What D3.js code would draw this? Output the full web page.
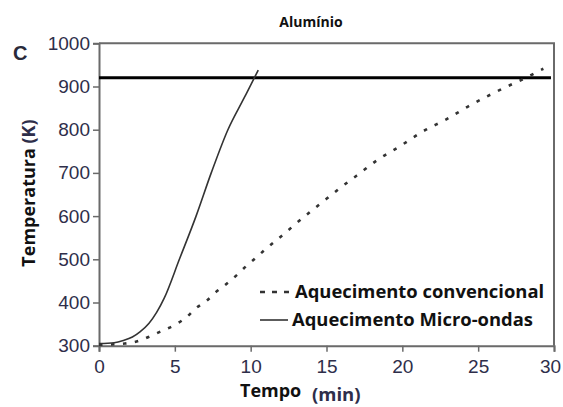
<!DOCTYPE html>
<html>
<head>
<meta charset="utf-8">
<script src="https://cdn.jsdelivr.net/npm/d3@7"></script>
<style>
  body { margin: 0; background: #fff; }
  svg { display: block; }
</style>
</head>
<body>
<script>
// dados
var timeMw = [0, 1, 1.6, 2.2, 2.7, 3.3, 3.8, 4.3, 5.3, 6.4, 7.4, 8.5, 9.5, 10.0, 10.5];
var tempMw = [305, 307, 312, 320, 332, 352, 377, 410, 500, 600, 700, 800, 869, 903, 938];

var timeConv = [0, 1.7, 2.7, 3.5, 4.2, 5, 5.8, 6.4, 7.1, 7.7, 8.4, 9.1, 9.7, 10.3, 11, 12, 13, 14, 15, 16, 17, 18.4, 19.9, 21.3, 22.9, 24.3, 25.8, 27.4, 28.2, 29, 29.3];
var tempConv = [302, 305, 312, 324, 335, 348, 367, 387, 404, 424, 443, 464, 484, 502, 524, 553, 583, 612, 640, 668, 694, 731, 763, 795, 824, 853, 881, 908, 921, 936, 941];

var meltTemp = 920;
var xTicks = [0, 5, 10, 15, 20, 25, 30];
var yTicks = [300, 400, 500, 600, 700, 800, 900, 1000];
var legendLabels = ["Aquecimento convencional", "Aquecimento Micro-ondas"];

var width = 563, height = 407;
var svg = d3.select('body').append('svg').attr('width', width).attr('height', height);

var xScale = d3.scaleLinear().domain([0, 30]).range([99, 554]);
var yScale = d3.scaleLinear().domain([300, 1000]).range([345.7, 43.3]);

var tickColor = '#2e2e4a';

// moldura (topo e direita)
svg.append('path')
  .attr('fill', 'none')
  .attr('stroke', '#6a6a6a')
  .attr('stroke-width', 2)
  .attr('d', 'M' + xScale(0) + ',' + yScale(1000) + 'H' + xScale(30) + 'V' + yScale(300));

// eixos
var xAxis = svg.append('g')
  .attr('transform', 'translate(0,' + yScale(300) + ')')
  .call(d3.axisBottom(xScale).tickValues(xTicks).tickSize(6).tickPadding(4).tickFormat(d3.format('d')));
var yAxis = svg.append('g')
  .attr('transform', 'translate(' + xScale(0) + ',0)')
  .call(d3.axisLeft(yScale).tickValues(yTicks).tickSize(6).tickPadding(3).tickFormat(d3.format('d')));

[xAxis, yAxis].forEach(function(ax) {
  ax.select('.domain').attr('stroke', '#6a6a6a').attr('stroke-width', 2);
  ax.selectAll('.tick line').attr('stroke', '#6a6a6a').attr('stroke-width', 1.5);
  ax.selectAll('.tick text')
    .attr('fill', tickColor)
    .style('font-family', '"Liberation Sans", Arial, sans-serif')
    .style('font-size', '19px');
});
xAxis.selectAll('.tick text').attr('dy', '0.9em');
xAxis.selectAll('.tick text').filter(function(d) { return d === 30; }).attr('dx', -4);

// linha de fusão
svg.append('line')
  .attr('x1', xScale(0)).attr('x2', xScale(29.8))
  .attr('y1', yScale(meltTemp)).attr('y2', yScale(meltTemp))
  .attr('stroke', '#000').attr('stroke-width', 3);

var line = d3.line()
  .x(function(d) { return xScale(d.t); })
  .y(function(d) { return yScale(d.T); })
  .curve(d3.curveMonotoneX);

var dataMw = timeMw.map(function(t, i) { return { t: t, T: tempMw[i] }; });
var dataConv = timeConv.map(function(t, i) { return { t: t, T: tempConv[i] }; });

svg.append('path')
  .attr('fill', 'none')
  .attr('stroke', '#333')
  .attr('stroke-width', 1.6)
  .attr('d', line(dataMw));

svg.append('path')
  .attr('fill', 'none')
  .attr('stroke', '#333')
  .attr('stroke-width', 2.6)
  .attr('stroke-dasharray', '3.5,8.5')
  .attr('d', line(dataConv));

// legenda
var legend = svg.append('g').style('font-family', '"Open Sans", sans-serif')
  .style('font-weight', 'bold').style('font-size', '18.4px');
legend.append('line')
  .attr('x1', 260).attr('x2', 292).attr('y1', 292).attr('y2', 292)
  .attr('stroke', '#333').attr('stroke-width', 2.6).attr('stroke-dasharray', '5,7');
legend.append('text').attr('x', 295).attr('y', 298).attr('fill', '#111').text(legendLabels[0]);
legend.append('line')
  .attr('x1', 260).attr('x2', 288).attr('y1', 320).attr('y2', 320)
  .attr('stroke', '#333').attr('stroke-width', 1.6);
legend.append('text').attr('x', 292).attr('y', 326).attr('fill', '#111').text(legendLabels[1]);

// títulos
svg.append('text')
  .attr('x', 311).attr('y', 27)
  .attr('text-anchor', 'middle')
  .style('font-family', '"Open Sans", sans-serif').style('font-weight', 'bold').style('font-size', '14px')
  .attr('fill', '#111')
  .text('Alumínio');

svg.append('text')
  .attr('x', 13).attr('y', 60)
  .style('font-family', '"Liberation Sans", Arial, sans-serif').style('font-weight', 'bold').style('font-size', '20px')
  .attr('fill', '#2a2a3a')
  .text('C');

var yLab = svg.append('text')
  .attr('transform', 'translate(35,193) rotate(-90)')
  .attr('text-anchor', 'middle')
  .style('font-family', '"Open Sans", sans-serif').style('font-weight', 'bold').style('font-size', '18px');
yLab.append('tspan').attr('fill', '#111').text('Temperatura ');
yLab.append('tspan').attr('fill', tickColor).text('(K)');

svg.append('text')
  .attr('x', 240).attr('y', 397)
  .style('font-family', '"Open Sans", sans-serif').style('font-weight', 'bold').style('font-size', '18px')
  .attr('fill', '#111')
  .text('Tempo');
svg.append('text')
  .attr('x', 312).attr('y', 401)
  .style('font-family', '"Open Sans", sans-serif').style('font-weight', 'bold').style('font-size', '18.5px')
  .attr('fill', tickColor)
  .text('(min)');
</script>
</body>
</html>
